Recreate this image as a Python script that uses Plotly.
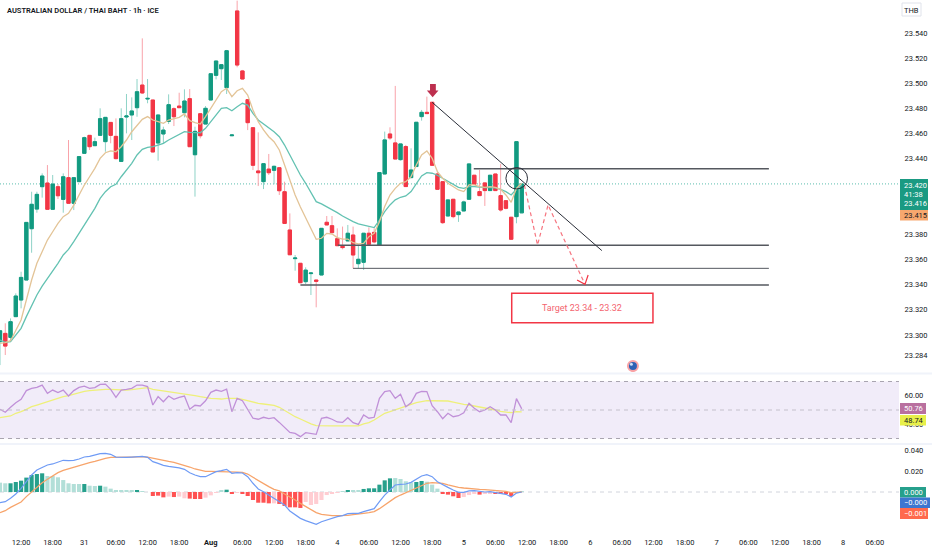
import plotly.graph_objects as go

W, H = 932, 550
PLOT_R = 899

# hourly bars, index 0 is 08:00 on 30 Jul
opens = [23.2946, 23.3012, 23.2980, 23.3145, 23.3277, 23.3436, 23.3844, 23.4000, 23.4178, 23.4207,
         23.3998, 23.4178, 23.4077, 23.4250, 23.4046, 23.4218, 23.4443, 23.4586, 23.4504, 23.4586,
         23.4536, 23.4689, 23.4578, 23.4379, 23.4732, 23.4748, 23.4806, 23.4986, 23.4875, 23.4867,
         23.4525, 23.4597, 23.4697, 23.4798, 23.4819, 23.4766, 23.4878, 23.4432, 23.4758, 23.4676,
         23.4867, 23.5063, 23.5116, 23.4965, 23.4583, 23.5575, 23.5098, 23.4870, 23.4647, 23.4303,
         23.4218, 23.4318, 23.4308, 23.4329, 23.4138, 23.3834, 23.3606, 23.3569, 23.3423, 23.3487,
         23.3436, 23.3476, 23.3895, 23.3868, 23.3765, 23.3704, 23.3747, 23.3794, 23.3566, 23.3577,
         23.3808, 23.3815, 23.3712, 23.4279, 23.4597, 23.4526, 23.4393, 23.4497, 23.4250, 23.4338,
         23.4735, 23.4769, 23.4849, 23.4279, 23.4218, 23.3945, 23.4078, 23.3956, 23.3985, 23.4078,
         23.4269, 23.4139, 23.4208, 23.4147, 23.4279, 23.4107, 23.4067, 23.3935, 23.3940, 23.3970]
highs = [23.3033, 23.3092, 23.3131, 23.3330, 23.3502, 23.3894, 23.4138, 23.4138, 23.4284, 23.4350,
         23.4271, 23.4199, 23.4284, 23.4549, 23.4250, 23.4417, 23.4576, 23.4586, 23.4568, 23.4801,
         23.4729, 23.4689, 23.4721, 23.4801, 23.4915, 23.4888, 23.5034, 23.5357, 23.5034, 23.4867,
         23.4748, 23.4655, 23.4912, 23.4809, 23.4925, 23.4952, 23.4954, 23.4655, 23.4758, 23.4819,
         23.5076, 23.5177, 23.5148, 23.5265, 23.4589, 23.5657, 23.5106, 23.4870, 23.4647, 23.4610,
         23.4361, 23.4438, 23.4345, 23.4329, 23.4218, 23.3966, 23.3635, 23.3569, 23.3537, 23.3492,
         23.3436, 23.3847, 23.3945, 23.3945, 23.3847, 23.3861, 23.3874, 23.3861, 23.3715, 23.3808,
         23.3855, 23.3847, 23.4290, 23.4616, 23.4650, 23.4979, 23.4518, 23.4510, 23.4483, 23.4690,
         23.4788, 23.4894, 23.4849, 23.4298, 23.4218, 23.4073, 23.4078, 23.3977, 23.4067, 23.4359,
         23.4269, 23.4311, 23.4208, 23.4269, 23.4279, 23.4359, 23.4067, 23.3935, 23.4536, 23.4200]
lows = [23.2760, 23.2840, 23.2946, 23.3145, 23.3211, 23.3436, 23.3653, 23.3971, 23.4091, 23.3998,
        23.3998, 23.4080, 23.3971, 23.4046, 23.3992, 23.4218, 23.4443, 23.4470, 23.4504, 23.4586,
        23.4456, 23.4523, 23.4395, 23.4379, 23.4602, 23.4549, 23.4734, 23.4915, 23.4841, 23.4454,
        23.4385, 23.4523, 23.4676, 23.4660, 23.4806, 23.4729, 23.4496, 23.4099, 23.4562, 23.4676,
        23.4867, 23.5031, 23.5026, 23.4915, 23.4583, 23.5127, 23.5031, 23.4628, 23.4310, 23.4183,
        23.4159, 23.4271, 23.4197, 23.4112, 23.3886, 23.3637, 23.3510, 23.3410, 23.3404, 23.3317,
        23.3219, 23.3476, 23.3874, 23.3807, 23.3709, 23.3680, 23.3747, 23.3529, 23.3529, 23.3516,
        23.3715, 23.3728, 23.3712, 23.4279, 23.4550, 23.4398, 23.4385, 23.4179, 23.4250, 23.4338,
        23.4703, 23.4759, 23.4348, 23.4157, 23.3882, 23.3945, 23.3927, 23.3898, 23.3985, 23.4078,
        23.4192, 23.4107, 23.4025, 23.4147, 23.4147, 23.3980, 23.3998, 23.3760, 23.3887, 23.3970]
closes = [23.3033, 23.2911, 23.3105, 23.3309, 23.3457, 23.3894, 23.4038, 23.4117, 23.4263, 23.3998,
          23.4199, 23.4106, 23.4257, 23.4046, 23.4250, 23.4417, 23.4568, 23.4496, 23.4536, 23.4719,
          23.4729, 23.4586, 23.4401, 23.4719, 23.4740, 23.4780, 23.4933, 23.4923, 23.4880, 23.4454,
          23.4748, 23.4628, 23.4830, 23.4734, 23.4806, 23.4859, 23.4496, 23.4618, 23.4583, 23.4801,
          23.5076, 23.5177, 23.5148, 23.5259, 23.4589, 23.5145, 23.5034, 23.4687, 23.4348, 23.4289,
          23.4361, 23.4289, 23.4340, 23.4146, 23.3886, 23.3637, 23.3611, 23.3415, 23.3515, 23.3492,
          23.3426, 23.3847, 23.3874, 23.3813, 23.3709, 23.3694, 23.3808, 23.3635, 23.3601, 23.3808,
          23.3720, 23.3739, 23.4290, 23.4550, 23.4565, 23.4398, 23.4518, 23.4179, 23.4311, 23.4690,
          23.4769, 23.4759, 23.4348, 23.4157, 23.3892, 23.4073, 23.3940, 23.3977, 23.4057, 23.4359,
          23.4197, 23.4107, 23.4147, 23.4269, 23.4147, 23.3993, 23.4006, 23.3760, 23.4536, 23.4200]
ema_fast = [23.2932, 23.2938, 23.2954, 23.3039, 23.3118, 23.3277, 23.3436, 23.3569, 23.3661, 23.3754,
            23.3820, 23.3887, 23.3940, 23.3966, 23.4032, 23.4112, 23.4191, 23.4257, 23.4324, 23.4403,
            23.4448, 23.4462, 23.4456, 23.4496, 23.4549, 23.4615, 23.4668, 23.4713, 23.4735, 23.4708,
            23.4695, 23.4682, 23.4708, 23.4721, 23.4729, 23.4756, 23.4703, 23.4687, 23.4676, 23.4735,
            23.4801, 23.4867, 23.4933, 23.4960, 23.4894, 23.4941, 23.4960, 23.4907, 23.4788, 23.4695,
            23.4629, 23.4575, 23.4536, 23.4470, 23.4350, 23.4218, 23.4112, 23.4016, 23.3927, 23.3839,
            23.3760, 23.3768, 23.3807, 23.3802, 23.3773, 23.3762, 23.3762, 23.3733, 23.3723, 23.3728,
            23.3781, 23.3807, 23.3900, 23.4020, 23.4112, 23.4165, 23.4205, 23.4218, 23.4258, 23.4351,
            23.4430, 23.4462, 23.4404, 23.4298, 23.4245, 23.4205, 23.4179, 23.4152, 23.4139, 23.4192,
            23.4192, 23.4179, 23.4173, 23.4179, 23.4173, 23.4157, 23.4112, 23.4054, 23.4165, 23.4205]
ema_slow = [23.2959, 23.2940, 23.2946, 23.2999, 23.3052, 23.3145, 23.3237, 23.3317, 23.3388, 23.3449,
            23.3502, 23.3569, 23.3635, 23.3680, 23.3741, 23.3807, 23.3873, 23.3940, 23.4006, 23.4085,
            23.4138, 23.4178, 23.4197, 23.4257, 23.4311, 23.4364, 23.4430, 23.4475, 23.4491, 23.4496,
            23.4509, 23.4523, 23.4549, 23.4570, 23.4597, 23.4615, 23.4610, 23.4610, 23.4607, 23.4642,
            23.4695, 23.4748, 23.4801, 23.4806, 23.4782, 23.4814, 23.4841, 23.4827, 23.4761, 23.4708,
            23.4676, 23.4642, 23.4615, 23.4575, 23.4509, 23.4430, 23.4350, 23.4271, 23.4205, 23.4126,
            23.4059, 23.4041, 23.4020, 23.3998, 23.3972, 23.3945, 23.3921, 23.3900, 23.3882, 23.3871,
            23.3861, 23.3853, 23.3913, 23.3980, 23.4033, 23.4073, 23.4094, 23.4104, 23.4139, 23.4205,
            23.4263, 23.4290, 23.4285, 23.4269, 23.4245, 23.4226, 23.4197, 23.4173, 23.4165, 23.4179,
            23.4179, 23.4173, 23.4171, 23.4171, 23.4168, 23.4157, 23.4139, 23.4112, 23.4157, 23.4192]
rsi = [50.5, 48.4, 51.9, 55.1, 57.5, 63.6, 65.2, 65.9, 67.5, 61.7,
       64.0, 62.2, 64.0, 59.8, 63.6, 65.9, 66.8, 65.2, 65.7, 68.0,
       68.2, 64.5, 58.9, 64.0, 64.5, 65.2, 67.5, 67.5, 66.4, 53.5,
       59.4, 55.8, 59.8, 57.5, 58.9, 59.8, 50.5, 53.3, 52.8, 56.5,
       62.4, 64.0, 63.1, 64.7, 48.8, 58.2, 56.5, 50.0, 44.2, 43.5,
       44.9, 43.9, 44.6, 41.3, 37.8, 34.3, 33.6, 31.3, 34.1, 33.6,
       32.9, 44.2, 44.9, 43.5, 41.6, 41.3, 44.6, 41.1, 39.9, 46.5,
       44.2, 44.9, 58.2, 62.9, 63.6, 58.2, 61.0, 52.3, 55.1, 61.7,
       63.1, 62.9, 53.0, 48.8, 43.9, 47.7, 45.3, 46.0, 48.1, 54.7,
       51.2, 48.8, 50.0, 52.3, 50.0, 46.5, 46.5, 41.1, 58.0, 50.76]
rsi_ma = [44.6, 45.3, 45.8, 47.7, 48.8, 50.5, 52.3, 53.5, 54.7, 55.8,
          57.0, 58.2, 59.4, 60.1, 61.2, 62.2, 63.1, 63.6, 64.0, 64.5,
          64.5, 64.5, 64.3, 64.0, 64.0, 64.3, 64.7, 65.2, 65.7, 64.5,
          64.0, 63.6, 62.9, 62.2, 61.7, 61.2, 60.8, 60.1, 59.4, 58.7,
          58.2, 58.0, 57.7, 58.2, 58.2, 58.2, 57.5, 56.5, 55.4, 54.7,
          54.2, 53.7, 53.3, 51.9, 49.5, 47.7, 45.3, 43.7, 41.8, 40.2,
          39.0, 38.8, 38.8, 38.8, 38.8, 38.8, 38.8, 38.8, 38.8, 40.2,
          41.1, 43.0, 45.3, 47.7, 48.8, 50.0, 51.2, 52.8, 54.0, 55.1,
          55.8, 56.5, 56.5, 56.5, 56.5, 56.3, 55.6, 54.7, 54.0, 53.5,
          52.8, 52.3, 51.9, 51.2, 50.0, 49.1, 48.6, 48.1, 48.8, 48.74]
macd = [-.0102, -.0092, -.0060, -.0019, .0035, .0098, .0162, .0210, .0232, .0257,
        .0267, .0283, .0302, .0298, .0302, .0314, .0333, .0340, .0352, .0365,
        .0368, .0359, .0333, .0330, .0330, .0333, .0337, .0340, .0330, .0289,
        .0273, .0254, .0244, .0238, .0229, .0216, .0184, .0162, .0146, .0146,
        .0168, .0194, .0203, .0216, .0178, .0184, .0181, .0146, .0083, .0029,
        .0003, -.0029, -.0060, -.0098, -.0124, -.0181, -.0219, -.0251, -.0273, -.0292,
        -.0308, -.0283, -.0267, -.0244, -.0235, -.0225, -.0206, -.0203, -.0203, -.0187,
        -.0171, -.0159, -.0092, -.0029, .0019, .0067, .0073, .0076, .0092, .0121,
        .0152, .0165, .0146, .0098, .0067, .0044, .0019, -.0003, -.0003, .0010,
        .0013, .0006, 0, .0003, -.0006, -.0013, -.0022, -.0048, -.0010, 0]
signal = [-.0197, -.0178, -.0146, -.0124, -.0095, -.0044, .0003, .0051, .0089, .0121,
          .0152, .0184, .0206, .0222, .0238, .0251, .0263, .0279, .0292, .0308,
          .0321, .0330, .0333, .0333, .0333, .0333, .0337, .0337, .0333, .0321,
          .0311, .0302, .0292, .0283, .0270, .0257, .0238, .0219, .0206, .0197,
          .0197, .0197, .0197, .0194, .0194, .0190, .0187, .0171, .0140, .0108,
          .0076, .0051, .0025, .0010, -.0019, -.0044, -.0076, -.0108, -.0140, -.0165,
          -.0197, -.0213, -.0222, -.0225, -.0225, -.0225, -.0222, -.0216, -.0206, -.0203,
          -.0197, -.0187, -.0159, -.0124, -.0086, -.0054, -.0029, -.0006, .0013, .0041,
          .0063, .0083, .0089, .0089, .0083, .0067, .0054, .0044, .0038, .0032,
          .0029, .0025, .0022, .0019, .0016, .0013, .0006, -.0006, -.0006, 0]
hist = [.0089, .0083, .0083, .0095, .0108, .0137, .0162, .0171, .0178, .0152,
        .0152, .0140, .0114, .0083, .0076, .0076, .0076, .0060, .0057, .0060,
        .0051, .0032, .0010, .0010, .0010, .0010, .0010, .0006, 0, -.0038,
        -.0035, -.0051, -.0044, -.0048, -.0044, -.0060, -.0063, -.0067, -.0067, -.0054,
        -.0032, -.0006, .0013, .0022, -.0019, -.0006, -.0016, -.0038, -.0076, -.0102,
        -.0102, -.0108, -.0108, -.0114, -.0133, -.0146, -.0146, -.0152, -.0095, -.0124,
        -.0114, -.0076, -.0029, -.0013, -.0003, .0006, .0019, .0016, .0016, .0029,
        .0035, .0035, .0070, .0111, .0130, .0133, .0124, .0102, .0092, .0095,
        .0105, .0098, .0070, .0032, -.0010, -.0025, -.0041, -.0057, -.0048, -.0029,
        -.0019, -.0025, -.0013, -.0010, -.0013, -.0016, -.0019, -.0038, -.0006, .0003]
hist_kind = ("ggGGGGGGGgggggggGggGggggggGgg"
             "RRRrRrrRRRrrrgGRrRRRRRRrRRRRR"
             "rrrrrrrgGggGGGGGGggggGGgggRRRRrrrRrrRRRRrg")

time_labels = ["12:00", "18:00", "31", "06:00", "12:00", "18:00", "<b>Aug</b>", "06:00", "12:00", "18:00",
               "4", "06:00", "12:00", "18:00", "5", "06:00", "12:00", "18:00", "6", "06:00",
               "12:00", "18:00", "7", "06:00", "12:00", "18:00", "8", "06:00"]
price_ticks = [23.54, 23.52, 23.50, 23.48, 23.46, 23.44, 23.38, 23.36, 23.34, 23.32, 23.30, 23.284]

# drawings on the price pane, (bar, price)
level_lines = [(89.9, 145.9, 23.432), (64.1, 145.9, 23.3712), (67.0, 145.9, 23.3529), (57.0, 145.9, 23.3397)]
level_widths = [1.5, 1.5, 1, 1.5]
trend_x = [82.0, 114.2]
trend_y = [23.4849, 23.3670]
path_x = [99.5, 102.0, 104.0, 111.0]
path_y = [23.4192, 23.3715, 23.4033, 23.3402]
head_x = [109.5, 111.0, 111.6]
head_y = [23.3436, 23.3402, 23.3476]
marker_x = [81.0, 81.6, 81.6, 82.7, 82.7, 83.2, 82.1, 81.0]
marker_y = [23.4942, 23.4942, 23.4995, 23.4995, 23.4942, 23.4942, 23.4889, 23.4942]

GREEN, RED = "#129a80", "#f23645"
WICK_G, WICK_R = "#8ed3c7", "#f9a3aa"
INK = "#131722"
FONT = "Roboto"
TEXT_SIZE = 7.5


def px_x(x):
    return x / W


def px_y(y):
    return 1 - y / H


bars = list(range(len(closes)))
x_range = [0, PLOT_R / 5.27]

fig = go.Figure()

# wick layer first, the body layer sits on top in solid colour
fig.add_trace(go.Candlestick(
    x=bars, open=opens, high=highs, low=lows, close=closes,
    increasing=dict(line=dict(color=WICK_G, width=1), fillcolor=WICK_G),
    decreasing=dict(line=dict(color=WICK_R, width=1), fillcolor=WICK_R),
    whiskerwidth=0, xaxis="x", yaxis="y", hoverinfo="skip"))
fig.add_trace(go.Candlestick(
    x=bars, open=opens, close=closes,
    high=[max(o, c) for o, c in zip(opens, closes)],
    low=[min(o, c) for o, c in zip(opens, closes)],
    increasing=dict(line=dict(color=GREEN, width=1), fillcolor=GREEN),
    decreasing=dict(line=dict(color=RED, width=1), fillcolor=RED),
    whiskerwidth=0, xaxis="x", yaxis="y", hoverinfo="skip"))

fig.add_trace(go.Scatter(x=bars, y=ema_slow, mode="lines", line=dict(color="#63c2b2", width=1.3), xaxis="x", yaxis="y"))
fig.add_trace(go.Scatter(x=bars, y=ema_fast, mode="lines", line=dict(color="#e3c497", width=1.3), xaxis="x", yaxis="y"))

for (x0, x1, level), lw in zip(level_lines, level_widths):
    fig.add_trace(go.Scatter(x=[x0, x1], y=[level, level], mode="lines", line=dict(color="#55585f", width=lw), xaxis="x", yaxis="y"))
fig.add_trace(go.Scatter(x=trend_x, y=trend_y, mode="lines", line=dict(color="#2a2e39", width=1), xaxis="x", yaxis="y"))
fig.add_trace(go.Scatter(x=path_x, y=path_y, mode="lines", line=dict(color="#f6747f", width=1.2, dash="4px,3px"), xaxis="x", yaxis="y"))
fig.add_trace(go.Scatter(x=head_x, y=head_y, mode="lines", line=dict(color=RED, width=1.2), xaxis="x", yaxis="y"))
fig.add_trace(go.Scatter(x=marker_x, y=marker_y, mode="lines", fill="toself", fillcolor="#bd2f4e", line=dict(color="#bd2f4e", width=0), xaxis="x", yaxis="y"))
fig.add_trace(go.Scatter(x=[120.1], y=[23.2752], mode="markers",
                         marker=dict(size=10, color="#2e62b5", line=dict(color="#f9a3a6", width=2)), xaxis="x", yaxis="y"))
fig.add_trace(go.Scatter(x=[119.8], y=[23.2766], mode="markers", marker=dict(size=3, color="#cfe0f5"), xaxis="x", yaxis="y"))

fig.add_trace(go.Scatter(x=bars, y=rsi_ma, mode="lines", line=dict(color="#eef07a", width=1.3), xaxis="x2", yaxis="y2"))
fig.add_trace(go.Scatter(x=bars, y=rsi, mode="lines", line=dict(color="#c090d8", width=1.3), xaxis="x2", yaxis="y2"))

hist_colors = {"G": "#26a08c", "g": "#b2dfd8", "R": "#ff5252", "r": "#ffcdd2"}
fig.add_trace(go.Bar(x=bars, y=hist, width=0.78, marker=dict(color=[hist_colors[k] for k in hist_kind], line=dict(width=0)), xaxis="x3", yaxis="y3"))
fig.add_trace(go.Scatter(x=bars, y=signal, mode="lines", line=dict(color="#f7a46b", width=1.3), xaxis="x3", yaxis="y3"))
fig.add_trace(go.Scatter(x=bars, y=macd, mode="lines", line=dict(color="#6f9bf5", width=1.2), xaxis="x3", yaxis="y3"))

shapes = [
    # separators between the panes
    dict(type="rect", xref="paper", yref="paper", x0=0, x1=1, y0=px_y(374.5), y1=px_y(372.5), fillcolor="#f0f3fa", line_width=0),
    dict(type="rect", xref="paper", yref="paper", x0=0, x1=1, y0=px_y(445), y1=px_y(443), fillcolor="#f0f3fa", line_width=0),
    # rsi band
    dict(type="rect", xref="x2", yref="y2", x0=x_range[0], x1=x_range[1], y0=30, y1=70, fillcolor="#f1ecf9", line_width=0, layer="below"),
    dict(type="line", xref="x2", yref="y2", x0=x_range[0], x1=x_range[1], y0=70, y1=70, line=dict(color="#a9a5b0", width=1, dash="4px,4px")),
    dict(type="line", xref="x2", yref="y2", x0=x_range[0], x1=x_range[1], y0=50, y1=50, line=dict(color="#c4c0cb", width=1, dash="4px,4px")),
    dict(type="line", xref="x2", yref="y2", x0=x_range[0], x1=x_range[1], y0=30, y1=30, line=dict(color="#a9a5b0", width=1, dash="4px,4px")),
    dict(type="line", xref="x3", yref="y3", x0=x_range[0], x1=x_range[1], y0=0, y1=0, line=dict(color="#d1d4dc", width=1, dash="4px,4px"), layer="below"),
    # last price line
    dict(type="line", xref="x", yref="y", x0=x_range[0], x1=x_range[1], y0=closes[-1], y1=closes[-1], line=dict(color="#5cbdae", width=1, dash="1px,2px"), layer="below"),
    # circle and target box
    dict(type="circle", xref="x", yref="y", x0=96.0, x1=100.1, y0=23.4160, y1=23.4330, line=dict(color="#2a2e39", width=1)),
    dict(type="rect", xref="x", yref="y", x0=97.1, x1=123.9, y0=23.3097, y1=23.3330, line=dict(color=RED, width=1.5), fillcolor="rgba(0,0,0,0)"),
    # currency button
    dict(type="rect", xref="paper", yref="paper", x0=px_x(902), x1=px_x(921), y0=px_y(16), y1=px_y(3), line=dict(color="#e0e3eb", width=1), fillcolor="white"),
]

annotations = [
    dict(xref="paper", yref="paper", x=px_x(5), y=px_y(10), text="AUSTRALIAN DOLLAR / THAI BAHT · 1h · ICE",
         xanchor="left", yanchor="middle", showarrow=False, font=dict(family=FONT, size=TEXT_SIZE, color=INK, weight=600)),
    dict(xref="x", yref="y", x=110.5, y=23.3213, text="Target 23.34 - 23.32",
         xanchor="center", yanchor="middle", showarrow=False, font=dict(family=FONT, size=9, color="#f4646f")),
    dict(xref="paper", yref="paper", x=px_x(911.5), y=px_y(10), text="THB",
         xanchor="center", yanchor="middle", showarrow=False, font=dict(family=FONT, size=TEXT_SIZE, color=INK)),
]

# coloured value tags stacked along the right axis: y top, y bottom, colour, right edge, text, text colour
tags = [
    (179, 210, "#1a9a82", 928, None, None),
    (210, 220.5, "#f7a76e", 928, "23.415", INK),
    (403, 414, "#b9709f", 926, "50.76", "white"),
    (415, 425.5, "#e8f04a", 926, "48.74", INK),
    (487, 497.5, "#26a08c", 926, "0.000", "white"),
    (497.5, 508, "#3d76d0", 930, "−0.000", "white"),
    (508, 519, "#ff6a4d", 928, "−0.001", "white"),
]
for top, bottom, color, right, label, label_color in tags:
    shapes.append(dict(type="rect", xref="paper", yref="paper", x0=px_x(900), x1=px_x(right), y0=px_y(bottom), y1=px_y(top), fillcolor=color, line_width=0))
    if label:
        annotations.append(dict(xref="paper", yref="paper", x=px_x(902), y=px_y((top + bottom) / 2), text=label, xanchor="left", yanchor="middle",
                                showarrow=False, font=dict(family=FONT, size=TEXT_SIZE, color=label_color)))
for y_pos, label in [(185, "23.420"), (195, "41:38"), (204, "23.416")]:
    annotations.append(dict(xref="paper", yref="paper", x=px_x(902), y=px_y(y_pos), text=label, xanchor="left", yanchor="middle",
                            showarrow=False, font=dict(family=FONT, size=TEXT_SIZE, color="white")))

x_common = dict(range=x_range, domain=[0, PLOT_R / W], showgrid=False, zeroline=False, showline=False, rangeslider=dict(visible=False))
y_common = dict(side="right", showgrid=False, zeroline=False, showline=False, ticks="outside", ticklen=3, tickcolor="white",
                tickfont=dict(family=FONT, size=TEXT_SIZE, color=INK))

fig.update_layout(
    autosize=False,
    width=W,
    height=H,
    margin=dict(l=0, r=0, t=0, b=0),
    paper_bgcolor="white",
    plot_bgcolor="white",
    showlegend=False,
    hovermode=False,
    boxgap=0.1,
    shapes=shapes,
    annotations=annotations,
    xaxis=dict(x_common, anchor="y", showticklabels=False),
    xaxis2=dict(x_common, anchor="y2", showticklabels=False),
    xaxis3=dict(x_common, anchor="y3", tickmode="array", tickvals=list(range(4, 170, 6)), ticktext=time_labels,
                ticks="outside", ticklen=3, tickcolor="white", tickfont=dict(family=FONT, size=TEXT_SIZE, color=INK)),
    yaxis=dict(y_common, domain=[px_y(372), 1], anchor="x", range=[23.2705, 23.5662], tickmode="array",
               tickvals=price_ticks, ticktext=[f"{t:.3f}" for t in price_ticks]),
    yaxis2=dict(y_common, domain=[px_y(444), px_y(374)], anchor="x2", range=[26.14, 75.26], tickmode="array",
                tickvals=[60, 40], ticktext=["60.00", "40.00"]),
    yaxis3=dict(y_common, domain=[px_y(532), px_y(445)], anchor="x3", range=[-.0381, .04476], tickmode="array",
                tickvals=[.04, .02], ticktext=["0.040", "0.020"]),
)

# the default page keeps the browser's 8px body margin, which would push the chart off the window
fig.write_html("out.html", config=dict(displayModeBar=False),
               post_script="document.body.style.margin='0';document.documentElement.style.overflow='hidden';")
